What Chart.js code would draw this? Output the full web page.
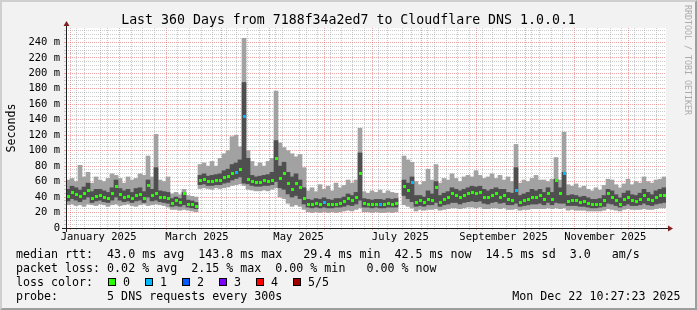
<!DOCTYPE html>
<html><head><meta charset="utf-8">
<script src="https://cdn.jsdelivr.net/npm/chart.js@4/dist/chart.umd.min.js"></script>
<style>html,body{margin:0;padding:0;background:#f2f2f2;overflow:hidden}canvas{display:block}</style>
</head><body>
<canvas id="c" width="697" height="310"></canvas>
<script>
// ---- data (ms), one sample every 2.4 days over the last 360 days ----
const SAMPLE_DAYS = 2.4;
const median = [41,46,43,41,45,49,38,41,42,40,38,44,54,43,40,41,38,42,43,38,55,42,44,40,39,38,
 32,35,33,44,31,30,28,
 61,63,60,60,62,61,65,66,70,72,76,143.8,
 63,60,59,59,61,60,62,90,
 64,70,58,50,58,52,38,
 31,30,32,31,33,31,30,31,32,34,38,36,40,70,
 32,31,30,31,31,30,32,31,32,
 null,
 54,48,59,33,
 35,33,37,36,52,33,37,39,44,42,39,42,44,46,44,46,40,39,42,44,40,42,37,36,49,33,35,37,40,39,42,
 37,44,37,62,45,70,34,36,35,33,34,32,30,30,31,35,44,40,35,31,37,40,35,34,37,42,37,35,40,42,42];
const innerLow = [35,38,36,34,37,40,33,35,36,34,33,36,40,36,34,35,33,35,36,33,40,35,36,34,33,32,
 28,29,28,30,27,26,25,
 56,57,55,55,56,56,58,59,62,64,66,58,
 57,55,54,54,55,55,56,60,
 52,50,44,40,42,38,31,
 27,26,27,26,27,26,26,27,27,28,30,29,31,36,
 27,27,26,27,26,26,27,27,27,
 null,
 42,38,34,28,
 29,28,30,30,33,28,30,31,33,33,31,33,34,35,34,35,32,31,33,34,32,33,30,30,32,28,29,30,31,31,32,
 30,33,30,33,32,32,29,29,29,28,28,27,26,26,27,28,32,31,29,27,29,31,29,29,30,32,30,29,31,32,33];
const innerHigh = [50,54,52,49,53,58,47,50,50,48,46,52,62,51,48,50,46,51,52,47,62,50,78,48,47,46,
 38,40,38,46,36,35,33,
 68,70,67,68,69,70,74,76,82,84,88,188,
 90,68,66,67,68,69,72,113,
 80,85,72,66,70,62,52,
 37,36,38,37,39,37,36,38,38,40,44,42,46,97,
 38,37,36,37,37,36,38,37,38,
 null,
 62,58,66,42,
 42,40,48,44,60,42,45,47,52,50,48,50,52,54,53,54,50,48,50,52,50,50,46,45,78,42,44,46,50,48,50,
 46,52,46,63,52,72,42,43,42,40,41,39,37,37,38,42,50,48,43,39,45,48,43,42,45,50,46,43,48,50,52];
const outerLow = [30,31,29,30,28,31,30,29,31,30,28,30,31,29,30,31,29,28,30,31,29,30,31,30,29,27,
 24,24,23,24,23,22,21,
 51,52,51,50,52,51,52,53,55,56,57,55,
 50,49,48,48,49,48,50,52,
 40,38,32,28,30,28,24,
 21,20,21,20,21,20,21,20,21,22,23,22,24,26,
 21,21,20,21,20,20,21,20,21,
 null,
 30,28,26,22,
 24,23,24,24,25,23,24,25,26,26,25,26,27,27,26,27,25,25,26,26,25,26,24,24,25,23,24,24,25,25,25,
 25,26,25,26,25,26,23,24,23,23,23,22,22,22,22,23,25,24,23,22,24,25,24,24,24,25,24,24,25,26,26];
const outerHigh = [62,64,60,81,66,72,58,66,62,60,64,70,68,64,58,66,62,64,70,68,93,66,121,62,60,66,
 44,46,43,50,42,41,40,
 82,84,80,86,80,90,96,100,118,120,105,245,
 100,86,80,84,80,86,90,177,
 110,104,100,96,92,95,78,
 48,52,47,56,50,54,48,58,52,55,62,58,62,129,
 47,45,48,46,49,45,48,46,45,
 null,
 93,88,85,60,
 56,60,76,62,82,58,64,62,70,64,60,66,68,66,74,68,64,66,70,64,68,62,66,60,108,58,62,60,64,68,62,
 62,60,63,91,62,124,56,54,57,52,54,50,48,52,49,55,63,62,56,52,57,63,56,60,58,66,60,58,62,63,66];
// samples where one of the 5 pings was lost
const lossIdx = [42,44,64,78,86,112,124];
const lossColors = ['#26ff00','#00b8ff','#0059ff','#7e00ff','#ff0000','#a00000'];
const lossLabels = ['0','1','2','3','4','5/5'];

const monthLabels = ['January 2025','March 2025','May 2025','July 2025','September 2025','November 2025'];
const monthLabelIdx = [0,2,4,6,8,10];
const yLabelStep = 20, yMinorStep = 5, yMax = 258.5;

const titleText = 'Last 360 Days from 7188f34a2ed7 to Cloudflare DNS 1.0.0.1';
const legendLines = [
 'median rtt:  43.0 ms avg  143.8 ms max   29.4 ms min  42.5 ms now  14.5 ms sd  3.0   am/s',
 'packet loss: 0.02 % avg  2.15 % max  0.00 % min   0.00 % now',
 'loss color:',
 'probe:       5 DNS requests every 300s'
];
const stampText = 'Mon Dec 22 10:27:23 2025';

// ---- time axis helpers ----
const DAY = 86400000;
const tEnd = Date.UTC(2025,11,22,10,27,23);
const tStart = tEnd - 360*DAY;
const dOf = t => (t - tStart)/DAY;
const monthStarts = [];
for (let m=0;m<12;m++) monthStarts.push(dOf(Date.UTC(2025,m,1)));
const weekTicks = [];
for (let t=Date.UTC(2024,11,28); t<tEnd; t+=7*DAY) weekTicks.push(dOf(t));
const labelTicks = monthLabelIdx.map(m => dOf(Date.UTC(2025,m,16)));
const labelMap = new Map(labelTicks.map((v,i)=>[v,monthLabels[i]]));
const monthSet = new Set(monthStarts);
const labelSet = new Set(labelTicks);
const xTickValues = [...new Set([...weekTicks, ...monthStarts, ...labelTicks])].sort((a,b)=>a-b);

const outerPts=[], innerPts=[], medPts=[];
median.forEach((m,i)=>{
  if (m===null) return;
  const x = (i+0.5)*SAMPLE_DAYS;
  outerPts.push({x, y:[outerLow[i], outerHigh[i]]});
  innerPts.push({x, y:[innerLow[i], innerHigh[i]]});
  medPts.push({x, y:m, loss: lossIdx.includes(i)?1:0});
});

// small median marks, one per loss colour
const markStyles = lossColors.map(col => {
  const cv = document.createElement('canvas'); cv.width = 3; cv.height = 3;
  const g = cv.getContext('2d'); g.fillStyle = col; g.fillRect(0,0,3,3); return cv;
});

const MAJOR='rgba(222,79,79,0.5)', MINOR='rgba(143,143,143,0.45)', NONE='rgba(0,0,0,0)';
const MONO='"DejaVu Sans Mono", monospace';
const xGridCol = c => { const v = c.tick ? c.tick.value : null; if (v===null) return NONE; return monthSet.has(v)?MAJOR:(labelSet.has(v)?NONE:MINOR); };
const yGridCol = c => { if (!c.tick) return NONE; return c.tick.value%yLabelStep===0?MAJOR:MINOR; };

const rrdPlugin = {
  id:'rrd',
  beforeDraw(chart){
    const {ctx, width:W, height:H, chartArea:a} = chart;
    ctx.save();
    ctx.fillStyle='#f2f2f2'; ctx.fillRect(0,0,W,H);
    ctx.fillStyle='#cfcfcf';
    ctx.beginPath(); ctx.moveTo(0,H); ctx.lineTo(2,H-2); ctx.lineTo(2,2); ctx.lineTo(W-2,2); ctx.lineTo(W,0); ctx.lineTo(0,0); ctx.closePath(); ctx.fill();
    ctx.fillStyle='#9e9e9e';
    ctx.beginPath(); ctx.moveTo(2,H-2); ctx.lineTo(W-2,H-2); ctx.lineTo(W-2,2); ctx.lineTo(W,0); ctx.lineTo(W,H); ctx.lineTo(0,H); ctx.closePath(); ctx.fill();
    ctx.fillStyle='#ffffff'; ctx.fillRect(a.left,a.top,a.right-a.left,a.bottom-a.top);
    ctx.restore();
  },
  afterDatasetsDraw(chart){
    const {ctx, chartArea:a} = chart;
    ctx.save();
    ctx.strokeStyle='#1f1f1f'; ctx.lineWidth=1;
    ctx.beginPath();
    ctx.moveTo(a.left-4, a.bottom+0.5); ctx.lineTo(a.right+4, a.bottom+0.5);
    ctx.moveTo(a.left+0.5, a.bottom+4); ctx.lineTo(a.left+0.5, a.top-4);
    ctx.stroke();
    ctx.fillStyle='#801f1f';
    ctx.beginPath(); ctx.moveTo(a.right+2,a.bottom-2.5); ctx.lineTo(a.right+2,a.bottom+3.5); ctx.lineTo(a.right+7,a.bottom+0.5); ctx.closePath(); ctx.fill();
    ctx.beginPath(); ctx.moveTo(a.left-2.5,a.top-2); ctx.lineTo(a.left+3.5,a.top-2); ctx.lineTo(a.left+0.5,a.top-7); ctx.closePath(); ctx.fill();
    ctx.restore();
  },
  afterDraw(chart){
    const {ctx, chartArea:a, width:W} = chart;
    ctx.save();
    ctx.fillStyle='#000';
    ctx.textBaseline='alphabetic';
    ctx.font='13.25px '+MONO; ctx.textAlign='center';
    ctx.fillText(titleText, W/2, 24);
    ctx.font='11.65px '+MONO; ctx.textAlign='left';
    const base=[258,272,286,300];
    legendLines.forEach((s,i)=>ctx.fillText(s,16,base[i]));
    const boxX=[108,145,182,219,256,293];
    lossLabels.forEach((lab,i)=>{
      ctx.fillStyle=lossColors[i]; ctx.fillRect(boxX[i],278,8,8);
      ctx.strokeStyle='#000'; ctx.lineWidth=1; ctx.strokeRect(boxX[i]+0.5,278.5,7,7);
      ctx.fillStyle='#000'; ctx.fillText(lab, boxX[i]+15, 286);
    });
    ctx.textAlign='right'; ctx.fillText(stampText, 680.5, 300);
    ctx.save(); ctx.translate(15,(a.top+a.bottom)/2); ctx.rotate(-Math.PI/2);
    ctx.textAlign='center'; ctx.fillText('Seconds',0,0); ctx.restore();
    ctx.save(); ctx.translate(685,5); ctx.rotate(Math.PI/2);
    ctx.font='8.3px '+MONO; ctx.fillStyle='#ababab'; ctx.textAlign='left';
    ctx.fillText('RRDTOOL / TOBI OETIKER',0,0); ctx.restore();
    ctx.restore();
  }
};

new Chart(document.getElementById('c'), {
  type:'bar',
  data:{datasets:[
    {type:'line', label:'median rtt', data:medPts, xAxisID:'xd', showLine:false,
     pointStyle:c=>markStyles[(c.raw&&c.raw.loss)||0],
     pointRadius:2, pointHoverRadius:2, pointBorderWidth:0, order:1},
    {label:'inner', data:innerPts, xAxisID:'xd', backgroundColor:'#4f4f4f', borderWidth:0, grouped:false,
     barPercentage:1, categoryPercentage:1, order:2},
    {label:'outer', data:outerPts, xAxisID:'xd', backgroundColor:'#a2a2a2', borderWidth:0, grouped:false,
     barPercentage:1, categoryPercentage:1, order:3}
  ]},
  options:{
    responsive:false, animation:false, devicePixelRatio:1,
    layout:{padding:{left:0,right:31,top:28,bottom:0}},
    plugins:{legend:{display:false},tooltip:{enabled:false},title:{display:false}},
    scales:{
      xd:{type:'linear', axis:'x', position:'bottom', min:0, max:360, offset:false, display:false,
        ticks:{stepSize:30}},
      x:{type:'linear', axis:'x', position:'bottom', min:0, max:360, offset:false,
        afterBuildTicks:s=>{ s.ticks = xTickValues.map(v=>({value:v})); },
        afterFit:s=>{ s.height = 82; },
        ticks:{autoSkip:false, maxRotation:0, minRotation:0, padding:1, color:'#000',
          font:{family:'DejaVu Sans Mono', size:10.5},
          callback:v=>labelMap.get(v)||''},
        grid:{lineWidth:1, tickLength:2, color:xGridCol, tickColor:xGridCol},
        border:{display:false, dash:[1,1]}
      },
      y:{type:'linear', min:0, max:yMax,
        afterBuildTicks:s=>{ const t=[]; for(let v=0; v<=yMax; v+=yMinorStep) t.push({value:v}); s.ticks=t; },
        afterFit:s=>{ s.width = 66; },
        ticks:{autoSkip:false, padding:4, color:'#000', font:{family:'DejaVu Sans Mono', size:10.5},
          callback:v=> v%yLabelStep===0 ? (v===0?'0':v+' m') : ''},
        grid:{lineWidth:1, tickLength:2, color:yGridCol, tickColor:yGridCol},
        border:{display:false, dash:[1,1]}
      }
    }
  },
  plugins:[rrdPlugin]
});
</script>
</body></html>
